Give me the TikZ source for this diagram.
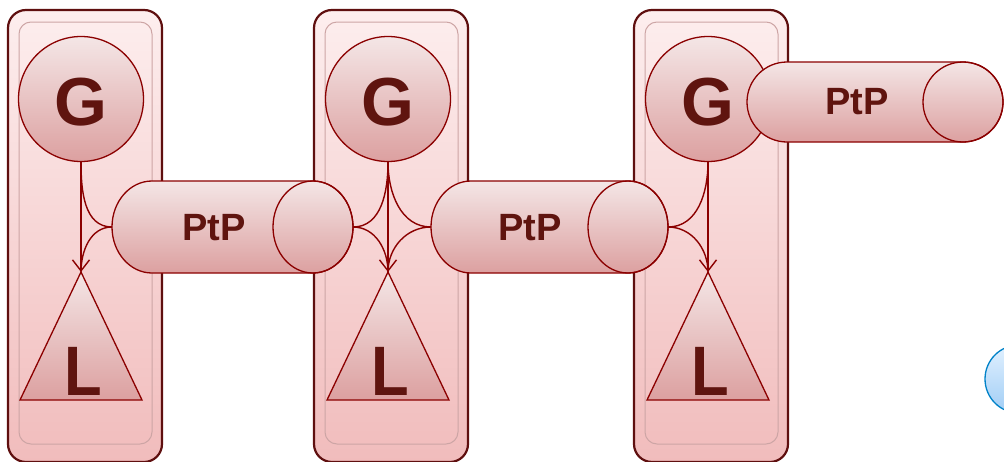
\documentclass[tikz,border=0pt]{standalone}
\usepackage{fontspec}
\setmainfont{Liberation Sans}
\usetikzlibrary{arrows.meta}
\definecolor{edgered}{RGB}{139,0,0}
\definecolor{colborder}{RGB}{95,15,15}
\definecolor{innerborder}{RGB}{205,165,165}
\definecolor{coltop}{RGB}{253,238,238}
\definecolor{colbot}{RGB}{241,188,188}
\definecolor{shapetop}{RGB}{244,230,230}
\definecolor{shapebot}{RGB}{220,160,160}
\definecolor{txt}{RGB}{95,20,15}
\definecolor{bluetop}{RGB}{226,241,255}
\definecolor{bluebot}{RGB}{160,205,245}
\definecolor{blueedge}{RGB}{0,130,200}
\tikzset{
  colbox/.style={draw=colborder, line width=2.2pt, rounded corners=18pt, top color=coltop, bottom color=colbot},
  colinner/.style={draw=innerborder, line width=1pt, rounded corners=12pt},
  gcirc/.style={circle, draw=edgered, line width=1.3pt, minimum size=125pt, inner sep=0pt, top color=shapetop, bottom color=shapebot},
  tri/.style={draw=edgered, line width=1.3pt, top color=shapetop, bottom color=shapebot},
  cyl/.style={draw=edgered, line width=1.3pt, top color=shapetop, bottom color=shapebot},
  conn/.style={draw=edgered, line width=1.4pt},
  arr/.style={conn, -{Straight Barb[length=11pt,width=17pt,line width=1.4pt]}},
  bigtxt/.style={text=txt, font=\fontsize{68}{68}\selectfont\bfseries, inner sep=0pt},
  ltxt/.style={text=txt, font=\fontsize{70}{70}\selectfont\bfseries, inner sep=0pt, xscale=0.88},
  ptptxt/.style={text=txt, font=\fontsize{38}{38}\selectfont\bfseries, inner sep=0pt},
}
% cylinder: #1 left x, #2 right x, #3 centre y, #4 half height, #5 cap radius
\newcommand{\mycyl}[5]{%
  \path[cyl] ({#1+#5},{#3+#4}) -- ({#2-#5},{#3+#4})
     arc[start angle=90, end angle=-90, x radius=#5, y radius=#4]
     -- ({#1+#5},{#3-#4})
     arc[start angle=270, end angle=90, x radius=#5, y radius=#4] -- cycle;
  \draw[draw=edgered, line width=1.3pt] ({#2-#5},#3) ellipse[x radius=#5, y radius=#4];
}
\begin{document}
\begin{tikzpicture}[x=1pt,y=1pt]
\useasboundingbox (0,0) rectangle (1004,-461);

% blue partial circle at right
\node[circle, draw=blueedge, line width=1.3pt, top color=bluetop, bottom color=bluebot, minimum size=68pt, inner sep=0pt] (bluec) at (1019,-379) {};

% columns
\foreach \xl/\i in {8/1,314/2,634/3}{
  \path[colbox] (\xl,-10) rectangle ({\xl+154},-462);
  \path[colinner] ({\xl+11},-22) rectangle ({\xl+144},-444);
}

% key points
\coordinate (ap1) at (81,-272);
\coordinate (ap2) at (388,-272);
\coordinate (ap3) at (708,-272);
\coordinate (p1w) at (112,-227);
\coordinate (p1e) at (353,-227);
\coordinate (p2w) at (431,-227);
\coordinate (p2e) at (668,-227);

% triangles
\foreach \cx/\i in {81/1,388/2,708/3}{
  \path[tri] (\cx,-272) -- ({\cx-61},-400) -- ({\cx+61},-400) -- cycle;
  \node[ltxt] (l\i) at ({\cx+2},-371) {L};
}

% G circles
\node[gcirc] (g1) at (81,-99) {};
\node[gcirc] (g2) at (388,-99) {};
\node[gcirc] (g3) at (708,-99) {};
\node[bigtxt] (gt1) at (81,-102) {G};
\node[bigtxt] (gt2) at (388,-102) {G};
\node[bigtxt] (gt3) at (708,-102) {G};

% connectors
\draw[arr] (g1.south) -- (ap1);
\draw[arr] (g2.south) -- (ap2);
\draw[arr] (g3.south) -- (ap3);
\draw[conn] (g1.south) to[out=-90,in=180] (p1w);
\draw[conn] (p1w) to[out=180,in=90] (ap1);
\draw[conn] (g2.south) to[out=-90,in=0] (p1e);
\draw[conn] (p1e) to[out=0,in=90] (ap2);
\draw[conn] (g2.south) to[out=-90,in=180] (p2w);
\draw[conn] (p2w) to[out=180,in=90] (ap2);
\draw[conn] (g3.south) to[out=-90,in=0] (p2e);
\draw[conn] (p2e) to[out=0,in=90] (ap3);

% PtP cylinders
\mycyl{112}{353}{-227}{46}{40}
\node[ptptxt] (t1) at (214,-228) {PtP};
\mycyl{431}{668}{-227}{46}{40}
\node[ptptxt] (t2) at (530,-228) {PtP};
\mycyl{747}{1003}{-102}{40}{40}
\node[ptptxt] (t3) at (857,-102) {PtP};
\end{tikzpicture}
\end{document}
